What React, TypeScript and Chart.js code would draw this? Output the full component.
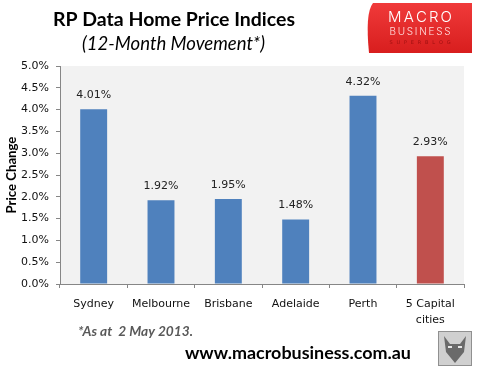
import React, { useEffect, useRef } from "react";
import { Chart, registerables } from "chart.js";

Chart.register(...registerables);

const categories: (string | string[])[] = ["Sydney", "Melbourne", "Brisbane", "Adelaide", "Perth", ["5 Capital", "cities"]];
const values: number[] = [4.01, 1.92, 1.95, 1.48, 4.32, 2.93];
const barColors: string[] = ["#4F81BD", "#4F81BD", "#4F81BD", "#4F81BD", "#4F81BD", "#C0504D"];
const titleText = "RP Data Home Price Indices";
const subtitleText = "(12-Month Movement*)";
const yAxisTitle = "Price Change";
const footnoteText = "*As at  2 May 2013.";
const urlText = "www.macrobusiness.com.au";

function fitFont(ctx: CanvasRenderingContext2D, text: string, style: string, family: string, size: number, width: number) {
  ctx.font = `${style} ${size}px ${family}`;
  const w = ctx.measureText(text).width;
  const s = (size * width) / w;
  ctx.font = `${style} ${s}px ${family}`;
}

const overlayPlugin = {
  id: "overlay",
  beforeDraw(chart: any) {
    const { ctx, chartArea } = chart;
    ctx.save();
    ctx.fillStyle = "#FFFFFF";
    ctx.fillRect(0, 0, chart.width, chart.height);
    ctx.fillStyle = "#F2F2F2";
    ctx.fillRect(chartArea.left, chartArea.top, chartArea.right - chartArea.left, chartArea.bottom - chartArea.top);
    ctx.restore();
  },
  afterDraw(chart: any) {
    const { ctx } = chart;
    ctx.save();
    // Title
    ctx.fillStyle = "#000000";
    ctx.textBaseline = "middle";
    ctx.textAlign = "left";
    fitFont(ctx, titleText, "bold", "Lato, 'Liberation Sans', sans-serif", 19, 242);
    ctx.fillText(titleText, 53, 20);
    fitFont(ctx, subtitleText, "italic", "Lato, 'Liberation Sans', sans-serif", 16, 183);
    ctx.fillText(subtitleText, 82, 44);

    // Y axis title
    ctx.save();
    ctx.translate(12, 175);
    ctx.rotate(-Math.PI / 2);
    ctx.textAlign = "left";
    fitFont(ctx, yAxisTitle, "bold", "Lato, 'Liberation Sans', sans-serif", 13, 77);
    ctx.fillText(yAxisTitle, -38.5, 0);
    ctx.restore();

    // Data labels
    const meta = chart.getDatasetMeta(0);
    ctx.textAlign = "center";
    ctx.textBaseline = "middle";
    ctx.font = "11px 'DejaVu Sans', sans-serif";
    ctx.fillStyle = "#222222";
    meta.data.forEach((bar: any, i: number) => {
      ctx.fillText(values[i].toFixed(2) + "%", bar.x, bar.y - 14);
    });

    // Footnote
    ctx.textAlign = "left";
    ctx.fillStyle = "#595959";
    fitFont(ctx, footnoteText, "italic bold", "Lato, 'Liberation Sans', sans-serif", 13, 115);
    ctx.fillText(footnoteText, 78, 332);

    // URL
    ctx.fillStyle = "#000000";
    fitFont(ctx, urlText, "bold", "Lato, 'Liberation Sans', sans-serif", 16, 226);
    ctx.fillText(urlText, 185, 353);

    // Logo
    const lx = 365, ly = 3, lw = 107, lh = 50;
    const g = ctx.createLinearGradient(lx, ly, lx, ly + lh);
    g.addColorStop(0, "#F03A3A");
    g.addColorStop(1, "#D81E1E");
    ctx.fillStyle = g;
    ctx.beginPath();
    ctx.moveTo(lx + 8, ly);
    ctx.lineTo(lx + lw, ly);
    ctx.lineTo(lx + lw, ly + lh);
    ctx.lineTo(lx + 4, ly + lh);
    ctx.quadraticCurveTo(lx, ly + 10, lx + 8, ly);
    ctx.fill();
    const drawSpaced = (t: string, cx: number, y: number, width: number) => {
      const chars = t.split("");
      const widths = chars.map((c) => ctx.measureText(c).width);
      const sum = widths.reduce((a, b) => a + b, 0);
      const spacing = (width - sum) / (chars.length - 1);
      let x = cx - width / 2;
      ctx.textAlign = "left";
      chars.forEach((c, i) => {
        ctx.fillText(c, x, y);
        x += widths[i] + spacing;
      });
    };
    ctx.textBaseline = "middle";
    ctx.fillStyle = "#FFFFFF";
    ctx.font = "300 15px Inter, 'DejaVu Sans', sans-serif";
    drawSpaced("MACRO", 420, 17, 64);
    ctx.fillStyle = "#FFE0E0";
    ctx.font = "300 10px Inter, 'DejaVu Sans', sans-serif";
    drawSpaced("BUSINESS", 420, 32, 61);
    ctx.fillStyle = "#A01010";
    ctx.font = "5px 'DejaVu Sans', sans-serif";
    drawSpaced("SUPERBLOG", 420, 43, 61);

    // Fox box
    ctx.fillStyle = "#D0D0D0";
    ctx.fillRect(438, 331, 34, 35);
    ctx.strokeStyle = "#909090";
    ctx.lineWidth = 1;
    ctx.strokeRect(438.5, 331.5, 33, 34);
    ctx.fillStyle = "#6A6A6A";
    ctx.beginPath();
    ctx.moveTo(444, 336);
    ctx.lineTo(450, 344);
    ctx.lineTo(460, 344);
    ctx.lineTo(466, 336);
    ctx.lineTo(464, 352);
    ctx.lineTo(455, 363);
    ctx.lineTo(446, 352);
    ctx.closePath();
    ctx.fill();
    ctx.fillStyle = "#E8E8E8";
    ctx.fillRect(448, 346, 4, 2);
    ctx.fillRect(458, 346, 4, 2);
    ctx.restore();
  },
};

export default function App() {
  const ref = useRef<HTMLCanvasElement | null>(null);
  useEffect(() => {
    if (!ref.current) return;
    const chart = new Chart(ref.current, {
      type: "bar",
      data: {
        labels: categories,
        datasets: [
          {
            data: values,
            backgroundColor: barColors,
            categoryPercentage: 1,
            barPercentage: 0.4,
          },
        ],
      },
      options: {
        responsive: false,
        animation: false,
        devicePixelRatio: 1,
        layout: { padding: { top: 66, right: 14, left: 0, bottom: 0 } },
        plugins: { legend: { display: false }, tooltip: { enabled: false }, title: { display: false } },
        scales: {
          x: {
            offset: true,
            grid: { offset: true, drawOnChartArea: false, drawTicks: true, tickLength: 4, color: "#868686" },
            border: { color: "#868686" },
            ticks: {
              color: "#111111",
              font: { family: "'DejaVu Sans', sans-serif", size: 11, lineHeight: 1.45 },
              padding: 8,
              maxRotation: 0,
              autoSkip: false,
            },
            afterFit: (scale: any) => {
              scale.height = 91;
            },
          },
          y: {
            min: 0,
            max: 5,
            ticks: {
              stepSize: 0.5,
              color: "#111111",
              font: { family: "'DejaVu Sans', sans-serif", size: 11 },
              padding: 7,
              callback: (v: any) => Number(v).toFixed(1) + "%",
            },
            grid: { drawOnChartArea: false, drawTicks: true, tickLength: 4, color: "#868686" },
            border: { color: "#868686" },
            afterFit: (scale: any) => {
              scale.width = 60;
            },
          },
        },
      },
      plugins: [overlayPlugin],
    });
    return () => chart.destroy();
  }, []);
  return (
    <div style={{ position: "absolute", left: 0, top: 0, width: 478, height: 375 }}>
      <canvas ref={ref} width={478} height={375} style={{ display: "block" }} />
    </div>
  );
}
